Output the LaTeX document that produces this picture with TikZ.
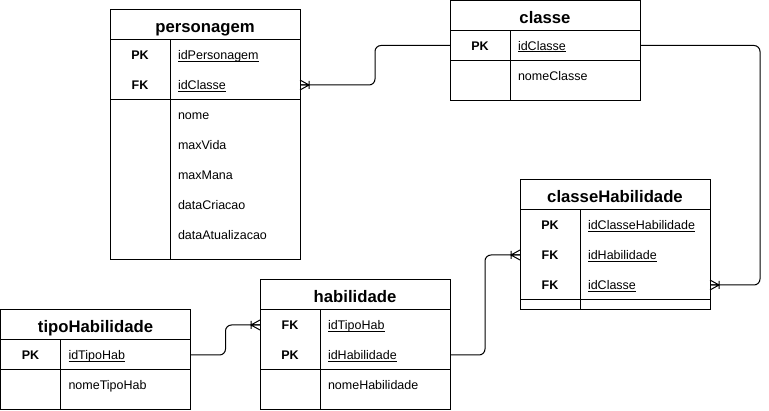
\documentclass[tikz,border=0pt]{standalone}
\usepackage{fontspec}
\setmainfont{Liberation Sans}
\usetikzlibrary{positioning,calc}

\newcommand{\keyname}[1]{\setbox0\hbox{#1}\rlap{\smash{\rule[-1.8pt]{\wd0}{0.8pt}}}\box0}

\begin{document}
\begin{tikzpicture}[
    x=1pt, y=-1pt,
    line width=1pt,
    tblhead/.style={draw, minimum width=190pt, minimum height=30pt,
                    inner sep=0pt, outer sep=0pt,
                    text height=17pt, text depth=1pt,
                    font=\fontsize{16.7}{19}\selectfont\bfseries},
    keycell/.style={minimum width=60pt, minimum height=30pt,
                    inner sep=0pt, outer sep=0pt,
                    text height=11pt, text depth=1pt,
                    font=\fontsize{12.5}{14}\selectfont\bfseries},
    fieldcell/.style={minimum height=30pt, text width=114pt,
                      inner xsep=8pt, inner ysep=0pt, outer sep=0pt,
                      text height=11pt, text depth=1pt,
                      align=left, font=\fontsize{12.5}{14}\selectfont},
    rel/.style={rounded corners=6pt},
    crowfoot/.pic={\draw (0,5) -- (9,0) -- (0,-5) (0,0) -- (9,0) (9,-4) -- (9,4);},
  ]
  \useasboundingbox (0,0) rectangle (769,411);

  % personagem
  \node[tblhead] (pers) at (205,25) {personagem};
  \node[keycell, below right=0 of pers.south west] (pers-k1) {PK};
  \node[fieldcell, right=0 of pers-k1] (pers-f1) {\keyname{idPersonagem}};
  \node[keycell, below=0 of pers-k1] (pers-k2) {FK};
  \node[fieldcell, right=0 of pers-k2] (pers-f2) {\keyname{idClasse}};
  \node[fieldcell, below=0 of pers-f2] (pers-f3) {nome};
  \node[fieldcell, below=0 of pers-f3] (pers-f4) {maxVida};
  \node[fieldcell, below=0 of pers-f4] (pers-f5) {maxMana};
  \node[fieldcell, below=0 of pers-f5] (pers-f6) {dataCriacao};
  \node[fieldcell, below=0 of pers-f6] (pers-f7) {dataAtualizacao};
  \coordinate (pers-bot) at ($(pers-f7.south east)+(0,10)$);
  \draw (pers.south west) rectangle (pers-bot);
  \draw (pers-k2.south west) -- (pers-f2.south east);
  \draw (pers-k1.north east) -- (pers-k1.north east |- pers-bot);

  % classe
  \node[tblhead] (cls) at (545,15.5) {classe};
  \node[keycell, below right=0 of cls.south west] (cls-k1) {PK};
  \node[fieldcell, right=0 of cls-k1] (cls-f1) {\keyname{idClasse}};
  \node[fieldcell, below=0 of cls-f1] (cls-f2) {nomeClasse};
  \coordinate (cls-bot) at ($(cls-f2.south east)+(0,10)$);
  \draw (cls.south west) rectangle (cls-bot);
  \draw (cls-k1.south west) -- (cls-f1.south east);
  \draw (cls-k1.north east) -- (cls-k1.north east |- cls-bot);

  % classeHabilidade
  \node[tblhead] (ch) at (615,195) {classeHabilidade};
  \node[keycell, below right=0 of ch.south west] (ch-k1) {PK};
  \node[fieldcell, right=0 of ch-k1] (ch-f1) {\keyname{idClasseHabilidade}};
  \node[keycell, below=0 of ch-k1] (ch-k2) {FK};
  \node[fieldcell, right=0 of ch-k2] (ch-f2) {\keyname{idHabilidade}};
  \node[keycell, below=0 of ch-k2] (ch-k3) {FK};
  \node[fieldcell, right=0 of ch-k3] (ch-f3) {\keyname{idClasse}};
  \coordinate (ch-bot) at ($(ch-f3.south east)+(0,10)$);
  \draw (ch.south west) rectangle (ch-bot);
  \draw (ch-k3.south west) -- (ch-f3.south east);
  \draw (ch-k1.north east) -- (ch-k1.north east |- ch-bot);

  % habilidade
  \node[tblhead] (hab) at (355,295) {habilidade};
  \node[keycell, below right=0 of hab.south west] (hab-k1) {FK};
  \node[fieldcell, right=0 of hab-k1] (hab-f1) {\keyname{idTipoHab}};
  \node[keycell, below=0 of hab-k1] (hab-k2) {PK};
  \node[fieldcell, right=0 of hab-k2] (hab-f2) {\keyname{idHabilidade}};
  \node[fieldcell, below=0 of hab-f2] (hab-f3) {nomeHabilidade};
  \coordinate (hab-bot) at ($(hab-f3.south east)+(0,10)$);
  \draw (hab.south west) rectangle (hab-bot);
  \draw (hab-k2.south west) -- (hab-f2.south east);
  \draw (hab-k1.north east) -- (hab-k1.north east |- hab-bot);

  % tipoHabilidade
  \node[tblhead] (tipo) at (95.5,325) {tipoHabilidade};
  \node[keycell, below right=0 of tipo.south west] (tipo-k1) {PK};
  \node[fieldcell, right=0 of tipo-k1] (tipo-f1) {\keyname{idTipoHab}};
  \node[fieldcell, below=0 of tipo-f1] (tipo-f2) {nomeTipoHab};
  \coordinate (tipo-bot) at ($(tipo-f2.south east)+(0,10)$);
  \draw (tipo.south west) rectangle (tipo-bot);
  \draw (tipo-k1.south west) -- (tipo-f1.south east);
  \draw (tipo-k1.north east) -- (tipo-k1.north east |- tipo-bot);

  % relationships
  \draw[rel] (cls-k1.west) -- ++(-75,0) |- (pers-f2.east);
  \pic at (pers-f2.east) {crowfoot};
  \draw[rel] (cls-f1.east) -- ++(120,0) |- (ch-f3.east);
  \pic at (ch-f3.east) {crowfoot};
  \draw[rel] (hab-f2.east) -- ++(35,0) |- (ch-k2.west);
  \pic[rotate=180] at (ch-k2.west) {crowfoot};
  \draw[rel] (tipo-f1.east) -- ++(35,0) |- (hab-k1.west);
  \pic[rotate=180] at (hab-k1.west) {crowfoot};
\end{tikzpicture}
\end{document}
